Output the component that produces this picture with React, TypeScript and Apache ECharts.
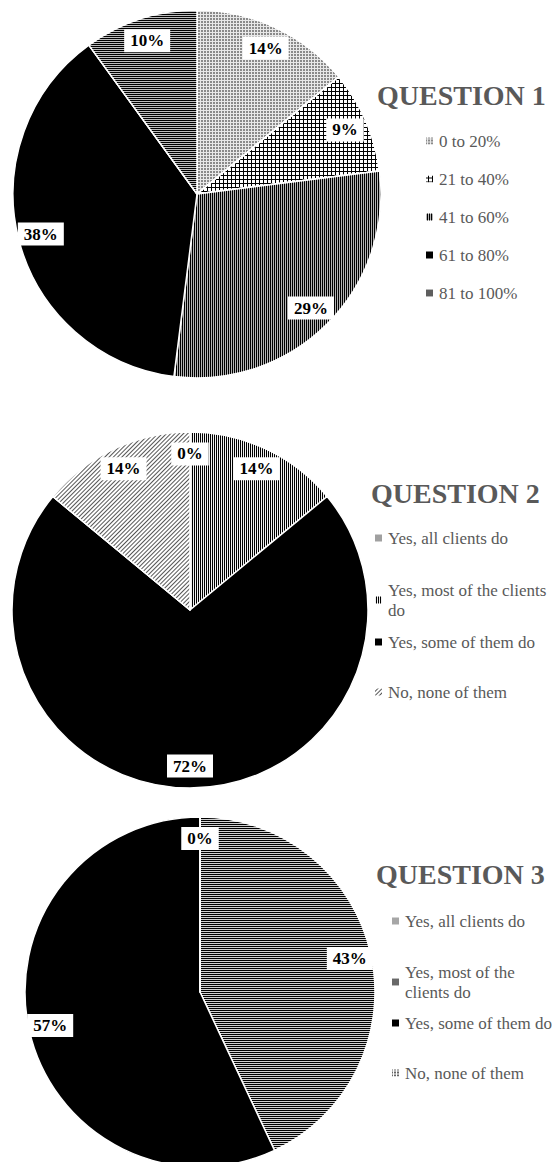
import React, { useEffect, useRef } from "react";
import * as echarts from "echarts";

// ---------- DATA ----------
const q1Categories = ["0 to 20%", "21 to 40%", "41 to 60%", "61 to 80%", "81 to 100%"];
const q1Values = [14, 9, 29, 38, 10];

const q2Categories = [
  "Yes, all clients do",
  "Yes, most of the clients do",
  "Yes, some of them do",
  "No, none of them",
];
const q2Values = [0, 14, 72, 14];

const q3Categories = [
  "Yes, all clients do",
  "Yes, most of the clients do",
  "Yes, some of them do",
  "No, none of them",
];
const q3Values = [0, 43, 57, 0];

const titles = ["QUESTION 1", "QUESTION 2", "QUESTION 3"];

// legend line breaks as shown in the picture
const q2LegendBreaks: Record<string, string> = {
  "Yes, most of the clients do": "Yes, most of the clients\ndo",
};
const q3LegendBreaks: Record<string, string> = {
  "Yes, most of the clients do": "Yes, most of the\nclients do",
};

// ---------- STYLES ----------
const SERIF = "Liberation Serif";

const dots = (bg: string, fg: string) => ({
  color: bg,
  decal: { symbol: "rect", symbolSize: 1, color: fg, dashArrayX: [2, 1], dashArrayY: [2, 1] },
});
const grid = () => ({
  color: "#000000",
  decal: { symbol: "rect", symbolSize: 1, color: "#ffffff", dashArrayX: [3, 1], dashArrayY: [3, 1] },
});
const vlines = (bg: string, fg: string) => ({
  color: bg,
  decal: { symbol: "rect", symbolSize: 1, color: fg, dashArrayX: [1, 1], dashArrayY: [1, 0] },
});
const hlines = (bg: string, fg: string) => ({
  color: bg,
  decal: { symbol: "rect", symbolSize: 1, color: fg, dashArrayX: [1, 0], dashArrayY: [1, 1] },
});
const diag = (bg: string, fg: string) => ({
  color: bg,
  decal: {
    symbol: "rect",
    symbolSize: 1,
    color: fg,
    dashArrayX: [1, 0],
    dashArrayY: [1, 2],
    rotation: -Math.PI / 4,
  },
});
const solid = (c: string) => ({ color: c });

const q1Fills = [
  dots("#e8e8e8", "#8a8a8a"),
  grid(),
  vlines("#b4b4b4", "#000000"),
  solid("#000000"),
  hlines("#bcbcbc", "#000000"),
];
const q2Fills = [solid("#a0a0a0"), vlines("#f0f0f0", "#000000"), solid("#000000"), diag("#ffffff", "#555555")];
const q3Fills = [solid("#a6a6a6"), hlines("#cfcfcf", "#000000"), solid("#000000"), dots("#ffffff", "#666666")];

type Spec = {
  title: string;
  titleLeft: number;
  titleMid: number;
  categories: string[];
  values: number[];
  fills: any[];
  center: [number, number];
  radius: number;
  legendLeft: number;
  legendMids: number[];
  breaks: Record<string, string>;
  height: number;
  top: number;
};

const specs: Spec[] = [
  {
    title: titles[0],
    titleLeft: 377,
    titleMid: 95,
    categories: q1Categories,
    values: q1Values,
    fills: q1Fills,
    center: [197, 194],
    radius: 184,
    legendLeft: 424,
    legendMids: [141, 179, 217, 255, 293],
    breaks: {},
    height: 400,
    top: 0,
  },
  {
    title: titles[1],
    titleLeft: 371,
    titleMid: 93,
    categories: q2Categories,
    values: q2Values,
    fills: q2Fills,
    center: [190, 210],
    radius: 178,
    legendLeft: 373,
    legendMids: [138, 200, 242, 292],
    breaks: q2LegendBreaks,
    height: 400,
    top: 400,
  },
  {
    title: titles[2],
    titleLeft: 376,
    titleMid: 74,
    categories: q3Categories,
    values: q3Values,
    fills: q3Fills,
    center: [200, 192],
    radius: 175,
    legendLeft: 390,
    legendMids: [121, 182, 223, 273],
    breaks: q3LegendBreaks,
    height: 362,
    top: 800,
  },
];

function buildOption(s: Spec) {
  const LH = 20;
  const data = s.categories.map((name, i) => ({
    name,
    value: s.values[i],
    itemStyle: { ...s.fills[i] },
  }));
  const labelData = s.categories.map((name, i) => ({ name, value: s.values[i] }));
  return {
    animation: false,
    title: {
      text: s.title,
      left: s.titleLeft,
      top: s.titleMid - 16,
      padding: 0,
      textStyle: {
        fontFamily: SERIF,
        fontWeight: "bold",
        fontSize: 28,
        lineHeight: 32,
        color: "#595959",
      },
    },
    legend: s.categories.map((name, i) => {
      const text = s.breaks[name] ?? name;
      const lines = text.split("\n").length;
      return {
        data: [name],
        orient: "vertical",
        left: s.legendLeft,
        top: s.legendMids[i] - (lines * LH) / 2,
        padding: 0,
        icon: "rect",
        itemWidth: 9,
        itemHeight: 9,
        itemGap: 0,
        selectedMode: false,
        formatter: (n: string) => s.breaks[n] ?? n,
        textStyle: {
          fontFamily: SERIF,
          fontSize: 17,
          lineHeight: LH,
          color: "#595959",
        },
      };
    }),
    series: [
      {
        type: "pie",
        center: s.center,
        radius: [0, s.radius],
        startAngle: 90,
        clockwise: true,
        silent: true,
        label: { show: false },
        labelLine: { show: false },
        emphasis: { disabled: true },
        itemStyle: { borderColor: "#ffffff", borderWidth: 1.5 },
        data,
      },
      {
        type: "pie",
        center: s.center,
        radius: [s.radius * 0.72, s.radius],
        startAngle: 90,
        clockwise: true,
        silent: true,
        emphasis: { disabled: true },
        itemStyle: { color: "rgba(0,0,0,0)", borderWidth: 0 },
        labelLine: { show: false },
        label: {
          show: true,
          position: "inside",
          formatter: "{c}%",
          backgroundColor: "#ffffff",
          padding: [3, 6, 3, 6],
          color: "#000000",
          fontFamily: SERIF,
          fontWeight: "bold",
          fontSize: 17,
          lineHeight: 17,
        },
        data: labelData,
      },
    ],
  };
}

function PieChart({ spec }: { spec: Spec }) {
  const ref = useRef<HTMLDivElement>(null);
  useEffect(() => {
    if (!ref.current) return;
    const chart = echarts.init(ref.current, null, { renderer: "svg" });
    chart.setOption(buildOption(spec) as any);
    return () => chart.dispose();
  }, [spec]);
  return (
    <div
      ref={ref}
      style={{ position: "absolute", left: 0, top: spec.top, width: 560, height: spec.height }}
    />
  );
}

export default function App() {
  return (
    <div
      style={{
        position: "absolute",
        left: 0,
        top: 0,
        width: 560,
        height: 1162,
        background: "#ffffff",
        overflow: "hidden",
      }}
    >
      {specs.map((s) => (
        <PieChart key={s.title} spec={s} />
      ))}
    </div>
  );
}
